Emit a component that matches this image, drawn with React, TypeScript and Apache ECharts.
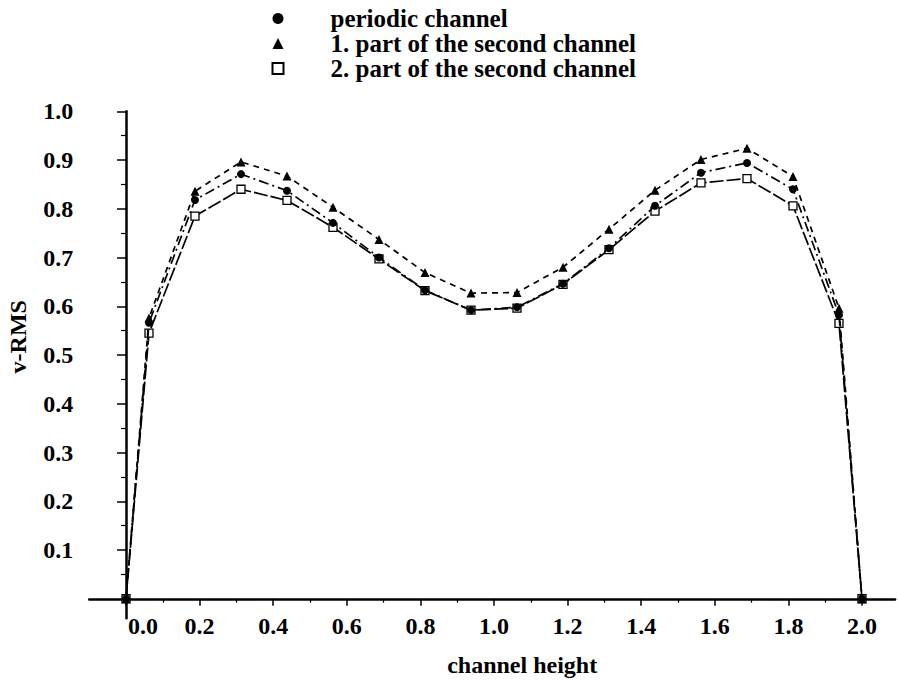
import React, { useEffect, useRef } from "react";
import * as echarts from "echarts";

// channel height positions (cell centres plus the two walls)
const xPositions = [0, 0.0625, 0.1875, 0.3125, 0.4375, 0.5625, 0.6875, 0.8125, 0.9375, 1.0625, 1.1875, 1.3125, 1.4375, 1.5625, 1.6875, 1.8125, 1.9375, 2.0];
// v-RMS values
const periodicChannel = [0, 0.566, 0.818, 0.871, 0.837, 0.771, 0.700, 0.633, 0.592, 0.598, 0.646, 0.719, 0.806, 0.874, 0.894, 0.840, 0.582, 0];
const secondPart1 = [0, 0.576, 0.836, 0.896, 0.867, 0.803, 0.737, 0.669, 0.627, 0.628, 0.680, 0.758, 0.838, 0.901, 0.924, 0.866, 0.596, 0];
const secondPart2 = [0, 0.545, 0.785, 0.840, 0.817, 0.762, 0.697, 0.632, 0.592, 0.596, 0.645, 0.716, 0.795, 0.853, 0.862, 0.806, 0.565, 0];

const seriesNames = ["periodic channel", "1. part of the second channel", "2. part of the second channel"];

const xTickValues = [0, 0.2, 0.4, 0.6, 0.8, 1.0, 1.2, 1.4, 1.6, 1.8, 2.0];
const xMinorTickValues = [0.1, 0.3, 0.5, 0.7, 0.9, 1.1, 1.3, 1.5, 1.7, 1.9];
const yTickValues = [0.1, 0.2, 0.3, 0.4, 0.5, 0.6, 0.7, 0.8, 0.9, 1.0];
const yMinorTickValues = [0.05, 0.15, 0.25, 0.35, 0.45, 0.55, 0.65, 0.75, 0.85, 0.95];

const FONT = "'Liberation Serif', 'DejaVu Serif', serif";

function pairs(ys: number[]) {
  return xPositions.map((x, i) => [x, ys[i]]);
}

export default function App() {
  const ref = useRef<HTMLDivElement>(null);

  useEffect(() => {
    if (!ref.current) return;
    const chart = echarts.init(ref.current, null, { renderer: "svg" });
    const textBase = { fontFamily: FONT, fontSize: 24, fontWeight: "bold" as const, color: "#000" };
    const xMin = -0.1;
    const xMax = 2.09;
    const yMin = -0.04;
    const yMax = 1.0;

    const option: any = {
      animation: false,
      backgroundColor: "#fff",
      grid: { left: 89.2, right: 2.9, top: 111.25, bottom: 67.75, containLabel: false, outerBoundsMode: "none" },
      legend: {
        orient: "vertical",
        left: 266.5,
        top: 1,
        itemWidth: 11,
        itemHeight: 11,
        itemGap: 0,
        textStyle: { ...textBase, fontSize: 25, padding: [0, 0, 0, 42] },
        data: [
          { name: seriesNames[0], icon: "circle" },
          { name: seriesNames[1], icon: "triangle" },
          { name: seriesNames[2], icon: "rect" },
        ],
      },
      xAxis: [
        {
          type: "value",
          min: xMin,
          max: xMax,
          position: "bottom",
          splitLine: { show: false },
          axisLine: { show: true, onZero: true, onZeroAxisIndex: 0, lineStyle: { color: "#000", width: 2.5 } },
          axisTick: { show: true, customValues: xTickValues, length: 7, lineStyle: { color: "#000", width: 1.5 } },
          axisLabel: {
            show: true,
            customValues: xTickValues,
            margin: -4,
            ...textBase,
            formatter: (v: number) => (v === 0 ? "{z|" + v.toFixed(1) + "}" : v.toFixed(1)),
            rich: { z: { ...textBase, padding: [0, 0, 0, 34] } },
          },
          name: "channel height",
          nameLocation: "middle",
          nameGap: 35,
          nameMoveOverlap: false,
          nameTextStyle: { ...textBase, padding: [0, 0, 0, 60] },
        },
        {
          type: "value",
          min: xMin,
          max: xMax,
          position: "bottom",
          splitLine: { show: false },
          axisLine: { show: false, onZero: true, onZeroAxisIndex: 0 },
          axisTick: { show: true, customValues: xMinorTickValues, length: 4, lineStyle: { color: "#000", width: 1.2 } },
          axisLabel: { show: false },
        },
      ],
      yAxis: [
        {
          type: "value",
          min: yMin,
          max: yMax,
          position: "left",
          splitLine: { show: false },
          axisLine: { show: true, onZero: true, onZeroAxisIndex: 0, lineStyle: { color: "#000", width: 2.5 } },
          axisTick: { show: true, customValues: yTickValues, length: 9, lineStyle: { color: "#000", width: 1.5 } },
          axisLabel: {
            show: true,
            customValues: yTickValues,
            margin: 16,
            ...textBase,
            formatter: (v: number) => v.toFixed(1),
          },
          name: "v-RMS",
          nameLocation: "middle",
          nameRotate: 90,
          nameGap: 59,
          nameMoveOverlap: false,
          nameTextStyle: { ...textBase, padding: [0, 0, 0, 56] },
        },
        {
          type: "value",
          min: yMin,
          max: yMax,
          position: "left",
          splitLine: { show: false },
          axisLine: { show: false, onZero: true, onZeroAxisIndex: 0 },
          axisTick: { show: true, customValues: yMinorTickValues, length: 5, lineStyle: { color: "#000", width: 1.2 } },
          axisLabel: { show: false },
        },
      ],
      series: [
        {
          name: seriesNames[2],
          type: "line",
          data: pairs(secondPart2),
          symbol: "rect",
          symbolSize: 8,
          itemStyle: { color: "#fff", borderColor: "#000", borderWidth: 1.3 },
          lineStyle: { color: "#000", width: 1.7, type: [14, 3] },
          z: 2,
        },
        {
          name: seriesNames[1],
          type: "line",
          data: pairs(secondPart1),
          symbol: "triangle",
          symbolSize: 9,
          itemStyle: { color: "#000" },
          lineStyle: { color: "#000", width: 1.7, type: [6, 5] },
          z: 3,
        },
        {
          name: seriesNames[0],
          type: "line",
          data: pairs(periodicChannel),
          symbol: "circle",
          symbolSize: 8,
          itemStyle: { color: "#000" },
          lineStyle: { color: "#000", width: 1.7, type: [10, 4, 2, 4] },
          z: 4,
        },
      ],
    };

    chart.setOption(option);
    return () => chart.dispose();
  }, []);

  return (
    <div
      ref={ref}
      style={{ position: "absolute", left: 0, top: 0, width: 898, height: 686, background: "#fff" }}
    />
  );
}
